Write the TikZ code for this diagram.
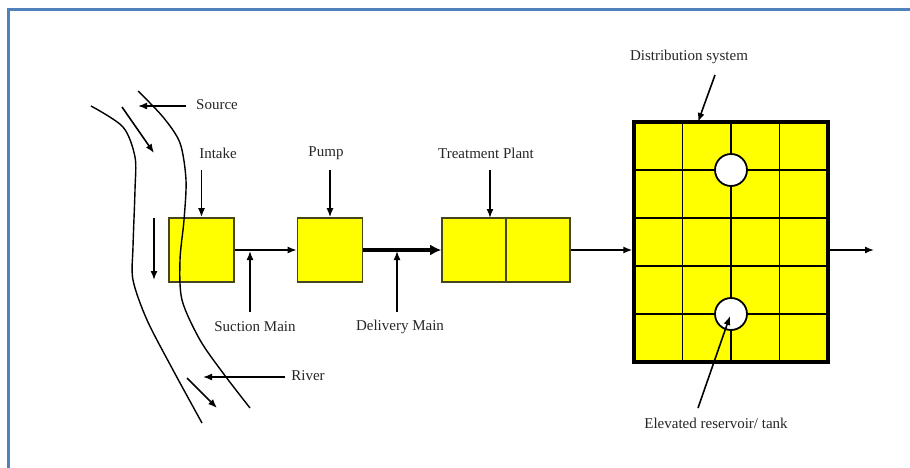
\documentclass[tikz,border=0pt]{standalone}
\usepackage{fontspec}
\setmainfont{Liberation Serif}
\usetikzlibrary{arrows.meta}
\begin{document}
\begin{tikzpicture}[x=1pt,y=-1pt,
  conn/.style={line width=1.6pt,-{Latex[length=9pt,width=7pt]}},
  thickconn/.style={line width=3.6pt,-{Latex[length=11pt,width=11pt]}},
  lbl/.style={font=\fontsize{15}{17}\selectfont, text=black!85, inner sep=1pt},
  unit/.style={draw={rgb,255:red,70;green,70;blue,30}, line width=1.6pt, fill={rgb,255:red,255;green,255;blue,0}, minimum width=65pt, minimum height=64pt, inner sep=0pt},
  bank/.style={line width=1.4pt},
]
\useasboundingbox (0,0) rectangle (910,468);
% frame
\draw[color={rgb,255:red,79;green,129;blue,189}, line width=3pt] (8,472) -- (8,10) -- (914,10);

% units
\node[unit] (intake) at (201.5,250) {};
\node[unit] (pump) at (330,250) {};
\node[unit, minimum width=128pt] (plant) at (506,250) {};
\draw[draw={rgb,255:red,70;green,70;blue,30}, line width=1.6pt] (plant.north) -- (plant.south);
\node[draw, line width=3.2pt, fill={rgb,255:red,255;green,255;blue,0}, minimum width=194pt, minimum height=240pt, inner sep=0pt] (dist) at (731,242) {};
% distribution grid
\foreach \xx in {682.5,731,779.5} \draw[line width=1.7pt] (\xx,122) -- (\xx,362);
\foreach \yy in {170,218,266,314} \draw[line width=1.7pt] (634,\yy) -- (828,\yy);
\node[circle, draw, line width=1.8pt, fill=white, minimum size=32pt, inner sep=0pt] (tank1) at (731,170) {};
\node[circle, draw, line width=1.8pt, fill=white, minimum size=32pt, inner sep=0pt] (tank2) at (731,314) {};

% river banks, drawn over the intake
\draw[bank] plot[smooth] coordinates {(91,106) (123,127) (135,157) (135,190) (133,247) (133,280) (147,320) (173,370) (202,423)};
\draw[bank] plot[smooth] coordinates {(138,91) (163,117) (180,143) (186,180) (184,220) (180,260) (182,300) (200,340) (223,373) (250,408)};
% flow direction
\coordinate (f1a) at (122,107); \coordinate (f1b) at (154,153);
\coordinate (f2a) at (154,218); \coordinate (f2b) at (154,280);
\coordinate (f3a) at (187,378); \coordinate (f3b) at (217,408);
\draw[conn] (f1a) -- (f1b);
\draw[conn] (f2a) -- (f2b);
\draw[conn] (f3a) -- (f3b);

% main line
\draw[conn] (intake.east) -- (pump.west);
\draw[thickconn] (pump.east) -- (plant.west);
\draw[conn] (plant.east) -- (plant.east -| dist.west);
\coordinate (out) at (874,250);
\draw[conn] (out -| dist.east) -- (out);

% labels
\node[lbl] (srcL) at (217,105) {Source};
\node[lbl] (intL) at (218,153) {Intake};
\node[lbl] (pumpL) at (326,153) {Pump};
\node[lbl] (plantL) at (486,153) {Treatment Plant};
\node[lbl] (distL) at (689,57) {Distribution system};
\node[lbl] (sucL) at (255,327) {Suction Main};
\node[lbl] (delL) at (400,327) {Delivery Main};
\node[lbl] (rivL) at (308,376) {River};
\node[lbl] (tankL) at (716,423) {Elevated reservoir/ tank};

% pointers
\coordinate (srcS) at (186,106); \coordinate (srcT) at (138,106);
\draw[conn] (srcS) -- (srcT);
\draw[conn] (intake.north |- 0,170) -- (intake.north);
\draw[conn] (pump.north |- 0,170) -- (pump.north);
\draw[conn] (490,170) -- (490,218);
\draw[conn] (250,312) -- (250,251);
\draw[conn] (397,312) -- (397,251);
\coordinate (rivS) at (285,377); \coordinate (rivT) at (203,377);
\draw[conn] (rivS) -- (rivT);
\draw[conn] (715,75) -- (698,122);
\draw[conn] (698,408) -- (730,316);
\end{tikzpicture}
\end{document}
